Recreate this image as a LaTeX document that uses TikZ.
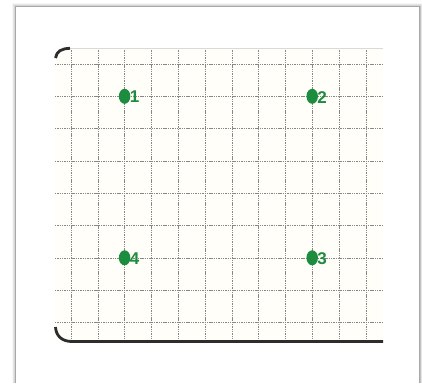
\documentclass[tikz,border=0pt]{standalone}
\usepackage{fontspec}
\setmainfont{Liberation Sans}
\usetikzlibrary{shapes.geometric}
\definecolor{dotgreen}{RGB}{28,140,62}
\definecolor{gridgray}{RGB}{135,135,135}
\definecolor{edgedark}{RGB}{45,45,45}
\definecolor{paper}{RGB}{255,254,248}
\tikzset{
  gridline/.style={gridgray, line width=0.5pt, dash pattern=on 1.4pt off 0.9pt},
  edgeline/.style={edgedark, line width=2.8pt},
  dotnode/.style={ellipse, fill=dotgreen, inner sep=0pt, minimum width=11.5pt, minimum height=15pt},
  labnode/.style={text=dotgreen, font=\bfseries\fontsize{17}{17}\selectfont, inner sep=0pt, anchor=west, xshift=-1pt, yshift=-0.8pt}
}
\begin{document}
\begin{tikzpicture}[x=1pt,y=-1pt]
\useasboundingbox (0,0) rectangle (422,383);
\fill[white] (0,0) rectangle (422,383);
% panel shadow
\foreach \d/\c in {6/97,5/94,4/90,3/84,2/76,1/66}{
  \fill[black!\the\numexpr100-\c\relax] (16-\d*0.7,7-\d*0.7) rectangle (420+\d*0.4,383);
}
\fill[white] (16,7) rectangle (419,383);
% paper tint
\fill[paper] (55,48) rectangle (383,342);
% grid
\foreach \k in {0,...,11}{
  \draw[gridline] (71+26.8*\k,48) -- (71+26.8*\k,342);
}
\foreach \k in {0,...,8}{
  \draw[gridline] (55,64+32.3*\k) -- (383,64+32.3*\k);
}
% top light line
\draw[black!15, line width=0.8pt] (70,48) -- (383,48);
% sheet edges
\draw[edgeline] (55.5,58) .. controls (56.5,51) and (62,48.5) .. (70,48.3);
\draw[edgeline] (55.5,327) .. controls (56,336) and (62,341.5) .. (72,341.5) -- (383,341.5);
% points
\node[dotnode] (p1) at (124.6,96.3) {};
\node[dotnode] (p2) at (312.2,96.3) {};
\node[dotnode] (p3) at (312.2,257.8) {};
\node[dotnode] (p4) at (124.6,257.8) {};
\node[labnode] (l1) at (p1.east) {1};
\node[labnode] (l2) at (p2.east) {2};
\node[labnode] (l3) at (p3.east) {3};
\node[labnode] (l4) at (p4.east) {4};
\end{tikzpicture}
\end{document}
